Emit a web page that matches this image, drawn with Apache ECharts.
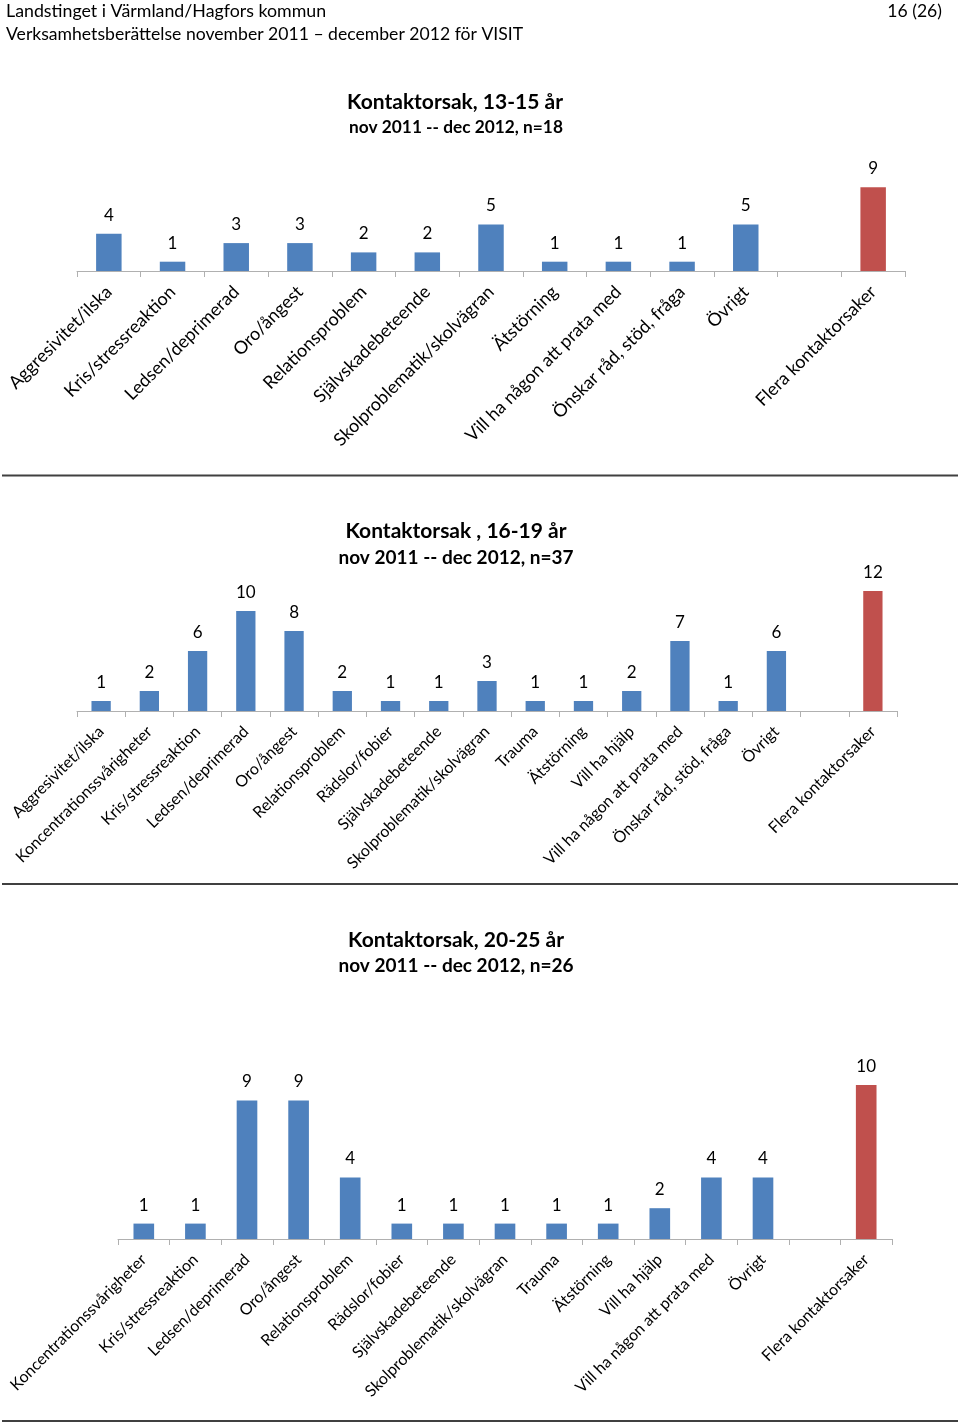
<!DOCTYPE html>
<html><head><meta charset="utf-8">
<script src="https://cdn.jsdelivr.net/npm/echarts@6/dist/echarts.min.js"></script>
<style>html,body{margin:0;padding:0;background:#fff}#c{width:960px;height:1423px}</style>
</head><body><div id="c"></div>
<script>
const cats1 = ['Aggresivitet/ilska','Kris/stressreaktion','Ledsen/deprimerad','Oro/ångest','Relationsproblem','Självskadebeteende','Skolproblematik/skolvägran','Ätstörning','Vill ha någon att prata med','Önskar råd, stöd, fråga','Övrigt','','Flera kontaktorsaker'];
const vals1 = [4,1,3,3,2,2,5,1,1,1,5,null,9];

const cats2 = ['Aggresivitet/ilska','Koncentrationssvårigheter','Kris/stressreaktion','Ledsen/deprimerad','Oro/ångest','Relationsproblem','Rädslor/fobier','Självskadebeteende','Skolproblematik/skolvägran','Trauma','Ätstörning','Vill ha hjälp','Vill ha någon att prata med','Önskar råd, stöd, fråga','Övrigt','','Flera kontaktorsaker'];
const vals2 = [1,2,6,10,8,2,1,1,3,1,1,2,7,1,6,null,12];

const cats3 = ['Koncentrationssvårigheter','Kris/stressreaktion','Ledsen/deprimerad','Oro/ångest','Relationsproblem','Rädslor/fobier','Självskadebeteende','Skolproblematik/skolvägran','Trauma','Ätstörning','Vill ha hjälp','Vill ha någon att prata med','Övrigt','','Flera kontaktorsaker'];
const vals3 = [1,1,9,9,4,1,1,1,1,1,2,4,4,null,10];

const titles1 = ['Kontaktorsak, 13-15 år','nov 2011 -- dec 2012, n=18'];
const titles2 = ['Kontaktorsak , 16-19 år','nov 2011 -- dec 2012, n=37'];
const titles3 = ['Kontaktorsak, 20-25 år','nov 2011 -- dec 2012, n=26'];
const header = ['Landstinget i Värmland/Hagfors kommun','Verksamhetsberättelse november 2011 – december 2012 för VISIT','16 (26)'];

const FONT = 'Lato, "Open Sans", sans-serif';
const BLUE = '#4F81BD', RED = '#C0504D';
const chart = echarts.init(document.getElementById('c'), null, {renderer:'canvas'});

const grids = [
  {left:77, right:55, top:178, height:93},
  {left:77, right:63, top:571, height:140},
  {left:118, right:68, top:1085, height:154}
];
const ymax = [10,14,10];
const labelSize = [18,16,16];
const allCats = [cats1,cats2,cats3];
const allVals = [vals1,vals2,vals3];

function dataOf(cats, vals){
  return vals.map((v,i)=>({value:v, itemStyle:{color: cats[i]==='Flera kontaktorsaker'?RED:BLUE}}));
}

const xAxis = allCats.map((c,i)=>({
  type:'category', gridIndex:i, data:c, boundaryGap:true,
  axisLine:{show:true, lineStyle:{color:'#b0b0b0', width:1}},
  axisTick:{show:true, alignWithLabel:false, interval:0, length:6, lineStyle:{color:'#b0b0b0'}},
  axisLabel:{interval:0, rotate:45, margin:18, color:'#000', fontSize:labelSize[i], fontFamily:FONT}
}));
const yAxis = allCats.map((c,i)=>({type:'value', gridIndex:i, min:0, max:ymax[i], show:false, splitLine:{show:false}}));
const series = allCats.map((c,i)=>({
  type:'bar', xAxisIndex:i, yAxisIndex:i, data:dataOf(c, allVals[i]), barWidth:'40%',
  label:{show:true, position:'top', distance:10, color:'#000', fontSize:17, fontFamily:FONT},
  animation:false
}));

function txt(text, x, y, size, weight, align){
  return {type:'text', x:x, y:y, style:{text:text, fill:'#000', font:(weight||'normal')+' '+size+'px '+FONT, textAlign:align||'left', textVerticalAlign:'middle'}};
}
function line(y){
  return {type:'line', shape:{x1:2,y1:y,x2:958,y2:y}, style:{stroke:'#404040', lineWidth:2}};
}

const graphic = [
  txt(header[0], 6, 11, 17.8),
  txt(header[1], 6, 34, 17.6),
  txt(header[2], 942, 11, 17.6, 'normal', 'right'),
  txt(titles1[0], 455, 102, 21, 'bold', 'center'),
  txt(titles1[1], 456, 127, 17.3, 'bold', 'center'),
  txt(titles2[0], 456, 531, 21, 'bold', 'center'),
  txt(titles2[1], 456, 558, 19, 'bold', 'center'),
  txt(titles3[0], 456, 940, 21, 'bold', 'center'),
  txt(titles3[1], 456, 966, 19, 'bold', 'center'),
  line(475.5), line(884), line(1421)
];

chart.setOption({
  animation:false,
  grid:grids, xAxis:xAxis, yAxis:yAxis, series:series, graphic:graphic
});
</script></body></html>
